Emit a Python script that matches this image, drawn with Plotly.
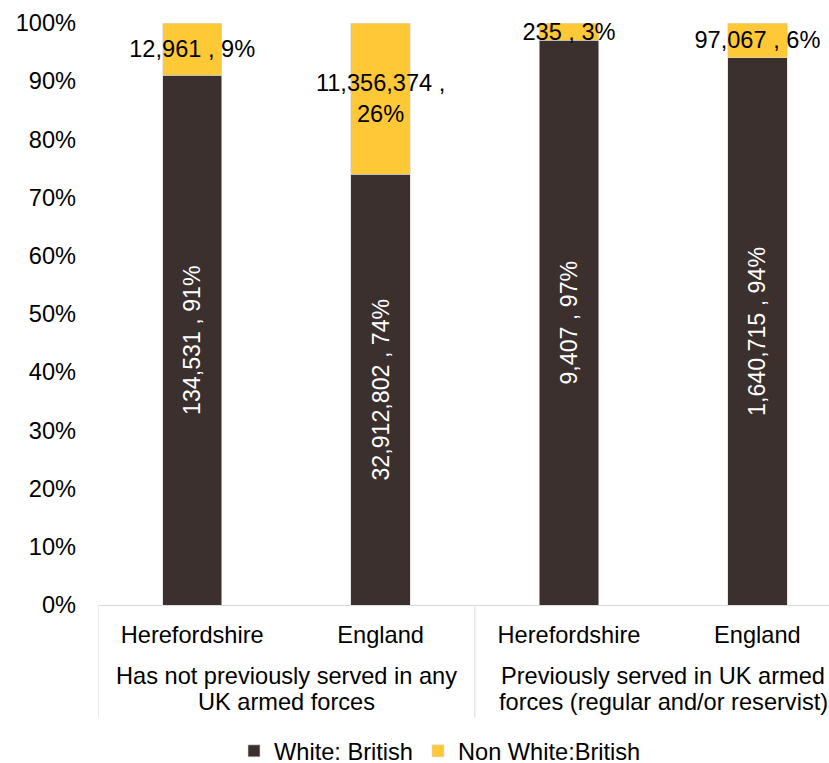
import plotly.graph_objects as go

# ---- data ----
areas = ["Herefordshire", "England", "Herefordshire", "England"]
group_lines = [
    ["Has not previously served in any", "UK armed forces"],
    ["Previously served in UK armed", "forces (regular and/or reservist)"],
]
white_counts = [134531, 32912802, 9407, 1640715]
white_pct = [91, 74, 97, 94]
nonwhite_counts = [12961, 11356374, 235, 97067]
nonwhite_pct = [9, 26, 3, 6]
series_names = ["White: British", "Non White:British"]
y_ticks = [0, 10, 20, 30, 40, 50, 60, 70, 80, 90, 100]

DARK = "#3B302D"
YELLOW = "#FFC836"
FONT = "Arial, Liberation Sans, sans-serif"
FS = 23.6

xpos = list(range(len(areas)))

white_text = [f"{c:,} , {p}%" for c, p in zip(white_counts, white_pct)]
nonwhite_text = []
for c, p in zip(nonwhite_counts, nonwhite_pct):
    s = f"{c:,} , {p}%"
    if c > 1_000_000:
        s = f"{c:,} ,<br>{p}%"
    nonwhite_text.append(s)

fig = go.Figure()
fig.add_trace(go.Bar(
    x=xpos, y=[p / 100 for p in white_pct], name=series_names[0],
    marker=dict(color=DARK, line=dict(color="#D9D9D9", width=0.6)),
    width=0.315,
    text=white_text, textposition="inside", textangle=-90,
    insidetextanchor="middle", constraintext="none",
    textfont=dict(color="white", size=23.2, family=FONT),
    hoverinfo="skip",
))
fig.add_trace(go.Bar(
    x=xpos, y=[p / 100 for p in nonwhite_pct], name=series_names[1],
    marker=dict(color=YELLOW, line=dict(color="#D9D9D9", width=0.6)),
    width=0.315,
    text=nonwhite_text, textposition="inside", textangle=0,
    insidetextanchor="middle", constraintext="none",
    textfont=dict(color="black", size=FS, family=FONT),
    hoverinfo="skip",
))

# page body margin is removed below, so figure pixels = screen pixels
W, H = 829, 763
L, T, B_PIX = 98, 23, 605.5
plot_h = B_PIX - T
spacing = 188.4
x_hi = -0.5 + (W - L) / spacing

def py(pix):
    return (B_PIX - pix) / plot_h

annotations = []
for gi, lines in enumerate(group_lines):
    xc = gi * 2 + 0.5
    for li, line in enumerate(lines):
        annotations.append(dict(
            x=xc, xref="x", y=py(677 + 26 * li), yref="paper",
            text=line, showarrow=False, xanchor="center", yanchor="middle",
            font=dict(size=FS, family=FONT, color="black"),
        ))

shapes = []
for xd in [-0.5, 1.5, 3.5]:
    shapes.append(dict(
        type="line", xref="x", yref="paper", x0=xd, x1=xd,
        y0=0, y1=py(718), line=dict(color="#D9D9D9", width=1),
    ))

fig.update_layout(
    width=W, height=H,
    margin=dict(l=L, r=0, t=T, b=H - B_PIX, pad=0, autoexpand=False),
    barmode="stack",
    plot_bgcolor="white", paper_bgcolor="white",
    font=dict(family=FONT, size=FS, color="black"),
    showlegend=True,
    legend=dict(
        orientation="h", x=(440 - L) / (W - L), xanchor="center",
        y=(H - 751) / H, yref="container", yanchor="middle",
        font=dict(size=FS, family=FONT, color="black"),
        traceorder="normal", itemwidth=30,
    ),
    xaxis=dict(
        range=[-0.5, x_hi], tickvals=xpos, ticktext=areas,
        showline=True, linecolor="#D9D9D9", linewidth=1,
        showgrid=False, zeroline=False, ticks="", ticklabelstandoff=9,
        automargin=False,
        tickfont=dict(size=FS, family=FONT, color="black"),
    ),
    yaxis=dict(
        range=[0, 1], tickvals=[v / 100 for v in y_ticks],
        ticktext=[f"{v}%" for v in y_ticks],
        showline=False, showgrid=False, zeroline=False, ticks="",
        ticklabelstandoff=21, automargin=False,
        tickfont=dict(size=FS, family=FONT, color="black"),
    ),
    annotations=annotations,
    shapes=shapes,
)

fig.write_html(
    "out.html",
    config={"displayModeBar": False},
    post_script="document.body.style.margin='0';document.body.style.overflow='hidden';",
)
